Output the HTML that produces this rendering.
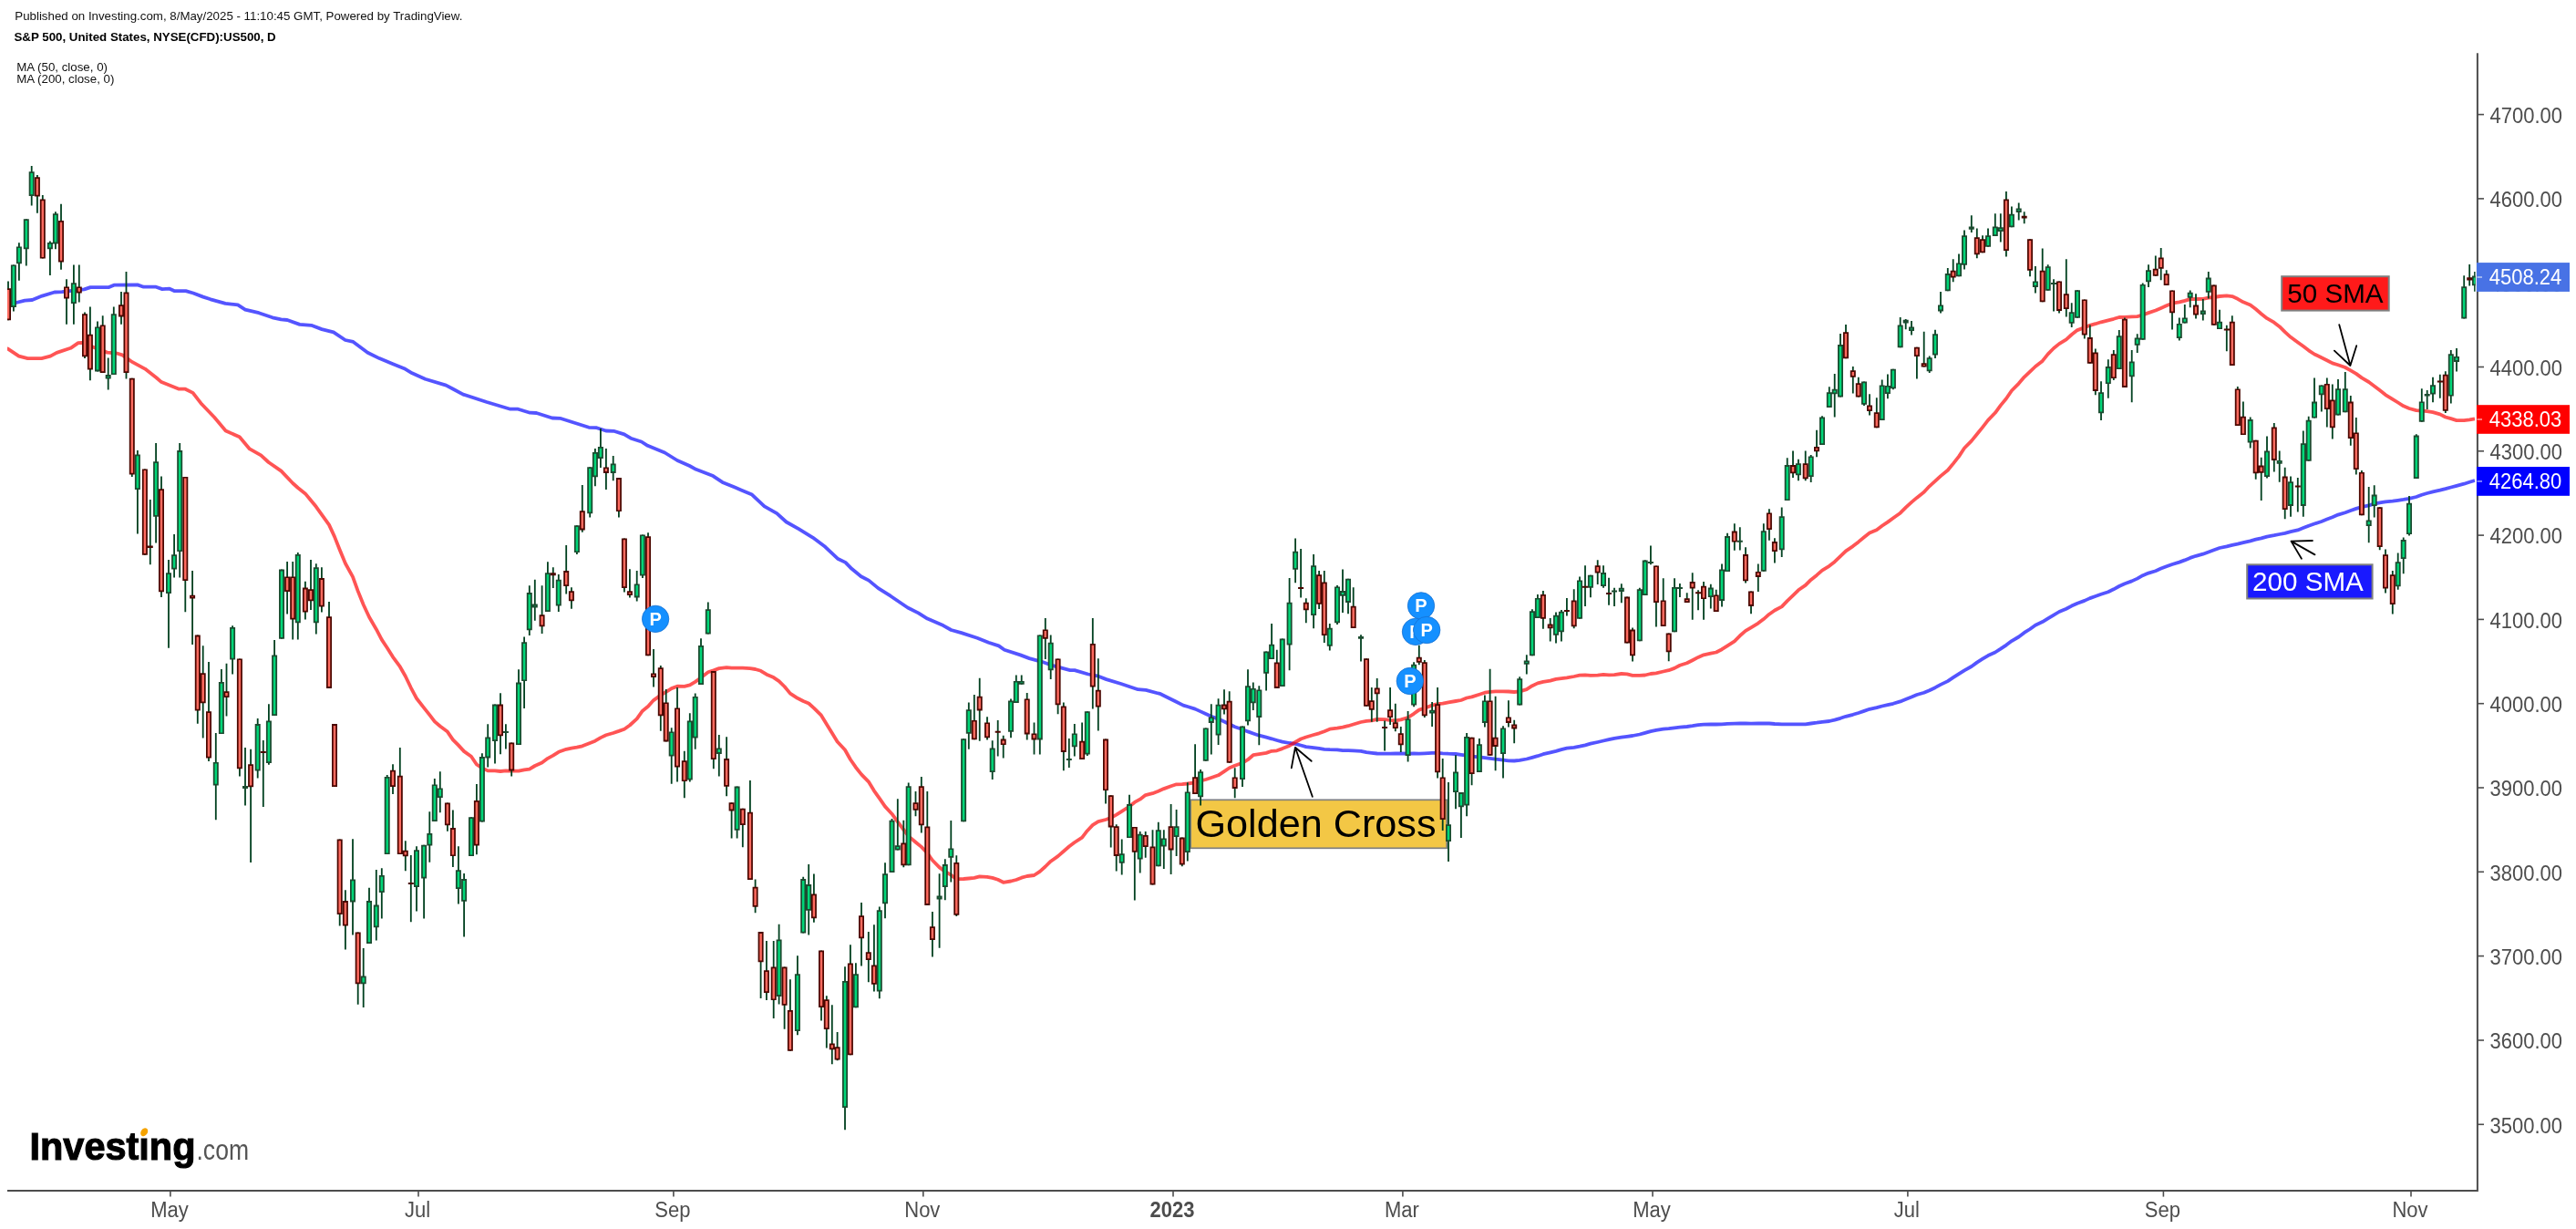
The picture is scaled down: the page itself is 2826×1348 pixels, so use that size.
<!DOCTYPE html><html><head><meta charset="utf-8"><style>html,body{margin:0;padding:0;background:#fff;width:2826px;height:1348px;overflow:hidden;position:relative}</style></head><body><svg width="2826" height="1348" viewBox="0 0 2826 1348" style="position:absolute;left:0;top:0;will-change:transform"><defs><clipPath id="cp"><rect x="8" y="58" width="2707.6" height="1247"/></clipPath></defs><text x="16.3" y="22" style="font-family:'Liberation Sans',sans-serif;font-size:13.3px" fill="#111">Published on Investing.com, 8/May/2025 - 11:10:45 GMT, Powered by TradingView.</text><text x="15.5" y="44.9" style="font-family:'Liberation Sans',sans-serif;font-size:13.3px;font-weight:bold" fill="#000">S&amp;P 500, United States, NYSE(CFD):US500, D</text><text x="18.2" y="78.2" style="font-family:'Liberation Sans',sans-serif;font-size:13.3px" fill="#111">MA (50, close, 0)</text><text x="18.2" y="91" style="font-family:'Liberation Sans',sans-serif;font-size:13.3px" fill="#111">MA (200, close, 0)</text><g clip-path="url(#cp)"><rect x="1306.2" y="877.3" width="281" height="53" fill="#f3c745" stroke="#808080" stroke-width="1.7"/><text x="1311.5" y="918.4" textLength="264" lengthAdjust="spacingAndGlyphs" style="font-family:'Liberation Sans',sans-serif;font-size:43.2px" fill="#000">Golden Cross</text><polyline points="8.0,333.5 17.7,332.0 27.2,329.6 35.3,329.0 46.2,324.6 59.8,320.5 67.9,320.1 92.4,317.4 99.2,315.1 119.6,315.1 125.0,312.7 150.8,312.4 157.6,314.7 171.2,314.7 178.0,317.1 186.1,316.7 191.6,319.2 203.8,319.2 212.0,321.5 222.8,325.6 231.0,328.3 247.3,332.8 260.9,334.4 269.0,339.6 284.0,343.2 298.9,348.3 308.4,350.4 315.2,351.0 328.8,355.9 341.5,356.8 353.0,361.1 365.9,364.4 378.8,373.0 387.5,374.9 403.3,386.7 416.2,393.1 430.5,398.9 443.5,404.2 452.1,409.3 466.5,415.7 489.4,422.6 498.1,427.2 508.1,432.6 534.0,441.0 559.8,448.7 568.4,448.7 581.4,452.7 588.5,453.0 605.8,458.5 614.4,458.8 646.0,468.8 654.6,469.2 664.7,472.5 673.3,472.8 684.8,476.4 692.0,480.7 703.7,484.5 710.5,488.8 729.3,496.5 743.0,505.0 756.6,511.0 763.5,514.8 782.3,522.1 792.5,528.9 806.2,534.6 813.0,537.5 825.0,542.6 838.6,555.4 852.3,563.1 862.6,572.5 876.2,580.2 891.6,589.6 905.3,599.8 918.9,612.7 927.5,616.9 934.3,623.8 944.6,632.3 953.1,636.6 963.4,645.1 977.0,653.7 995.8,666.5 1007.5,672.4 1017.4,678.6 1034.8,686.1 1043.5,691.0 1054.7,694.1 1072.0,699.7 1084.5,704.7 1095.7,708.4 1101.9,712.8 1119.3,718.4 1129.2,722.1 1142.9,725.8 1155.3,730.2 1173.9,735.1 1178.9,735.1 1193.8,739.5 1203.7,741.3 1213.7,745.1 1229.8,750.0 1248.4,756.2 1257.1,756.9 1273.3,761.2 1289.4,769.3 1298.1,773.6 1302.8,775.0 1311.1,777.6 1317.1,780.4 1322.8,783.0 1328.8,785.7 1336.6,788.6 1343.0,791.5 1348.7,794.2 1354.7,797.2 1363.0,800.0 1369.0,802.4 1374.8,804.5 1381.3,806.7 1389.1,808.7 1395.1,810.3 1400.8,812.0 1406.8,813.7 1414.6,815.0 1421.1,815.9 1427.1,817.5 1432.8,819.1 1441.1,820.1 1447.1,820.8 1452.8,821.8 1458.8,822.2 1467.0,822.4 1473.0,823.1 1479.0,823.1 1484.7,823.4 1493.0,823.8 1499.0,825.2 1504.8,825.9 1510.7,826.5 1519.1,826.6 1525.1,826.6 1530.8,826.5 1536.8,826.4 1544.6,826.6 1551.1,826.4 1556.8,826.6 1562.8,826.3 1571.1,825.9 1577.1,825.8 1582.7,826.3 1589.0,826.7 1597.0,827.0 1602.9,827.8 1609.1,828.7 1614.6,829.7 1622.9,830.4 1628.9,831.2 1634.6,831.9 1640.6,832.7 1649.0,833.6 1654.9,834.3 1661.2,834.5 1667.2,833.9 1674.8,832.5 1680.9,830.8 1686.9,829.2 1692.9,827.2 1700.7,825.3 1707.0,823.8 1712.9,822.1 1718.9,820.7 1726.7,819.9 1733.0,818.7 1739.0,817.3 1744.9,815.7 1752.7,814.0 1759.0,812.5 1765.0,811.1 1771.0,809.8 1778.8,808.7 1785.0,807.9 1791.0,807.0 1798.8,805.5 1804.7,803.8 1810.9,802.1 1816.9,800.9 1824.7,799.7 1830.7,799.2 1837.0,798.3 1842.9,797.7 1850.7,797.0 1856.7,796.2 1863.0,795.2 1869.0,794.7 1876.8,794.4 1882.7,794.5 1889.0,794.4 1895.0,793.9 1902.8,793.7 1908.8,793.5 1915.0,793.5 1921.0,793.6 1928.8,793.5 1934.8,793.5 1940.9,793.5 1946.9,794.0 1954.7,794.3 1960.7,794.4 1967.0,794.4 1972.9,794.4 1980.7,794.3 1986.7,793.5 1993.0,792.7 1999.0,791.8 2006.8,791.0 2012.7,789.6 2019.0,787.8 2025.0,785.8 2032.8,783.8 2038.8,782.0 2045.0,779.9 2051.0,777.8 2058.8,776.2 2064.7,774.5 2070.9,773.1 2076.9,771.8 2084.7,769.4 2090.7,767.0 2097.0,764.5 2102.9,762.0 2110.7,759.7 2116.7,757.2 2123.0,754.2 2129.0,750.9 2136.8,747.1 2142.7,743.2 2149.0,739.1 2155.0,735.3 2162.8,731.0 2168.8,726.6 2175.0,722.7 2181.0,719.1 2188.8,715.5 2194.8,711.7 2200.9,707.6 2206.9,703.1 2214.7,698.5 2220.7,693.9 2227.0,690.0 2232.9,685.7 2240.7,682.1 2246.7,678.4 2253.0,674.7 2259.0,671.0 2266.8,667.7 2272.7,664.6 2279.0,661.7 2286.8,658.9 2292.8,656.1 2298.8,654.0 2305.0,651.7 2312.8,649.2 2318.8,646.3 2324.8,643.0 2330.9,640.2 2338.7,637.4 2344.7,634.6 2350.7,631.2 2357.0,628.6 2364.8,626.2 2370.7,623.6 2376.7,621.3 2383.0,619.0 2390.8,616.6 2396.8,614.4 2402.7,611.9 2409.0,609.8 2416.8,607.7 2422.8,605.5 2428.8,603.3 2435.0,601.0 2442.8,599.3 2448.8,597.8 2454.8,596.6 2460.9,595.1 2468.7,593.3 2474.7,591.7 2480.7,590.3 2487.0,588.6 2494.8,587.2 2500.7,586.0 2506.7,584.9 2513.0,583.2 2520.8,581.4 2526.8,579.1 2532.7,576.7 2539.0,574.5 2546.8,572.0 2552.8,569.6 2558.8,567.3 2565.0,564.6 2572.8,562.2 2578.8,560.0 2584.8,557.9 2590.9,556.2 2598.7,554.3 2604.7,552.7 2610.7,551.3 2617.0,550.3 2624.8,549.6 2630.7,548.8 2636.7,547.9 2643.0,546.8 2650.8,545.0 2656.8,542.8 2662.7,541.0 2669.0,539.4 2676.8,537.7 2682.8,536.2 2688.8,534.5 2695.0,532.9 2703.2,530.7 2709.2,528.8 2715.0,527.0" fill="none" stroke="rgba(0,0,255,0.67)" stroke-width="3.8" stroke-linejoin="round"/><polyline points="8.0,382.4 8.3,382.4 20.7,390.7 30.4,393.2 45.6,393.2 55.3,390.7 62.2,386.9 77.5,381.8 85.8,376.2 89.9,375.8 102.4,380.8 117.6,386.6 127.3,387.3 134.2,389.4 143.9,396.3 159.1,404.6 171.5,414.3 177.1,419.1 196.4,426.7 203.3,426.7 211.6,430.9 221.3,443.3 235.2,457.8 247.6,472.4 262.8,479.3 273.9,492.4 286.3,499.3 294.6,507.0 308.5,516.6 321.2,530.0 326.8,535.0 334.9,541.4 341.0,548.8 346.8,555.8 352.9,564.3 361.0,575.6 367.0,588.6 372.7,603.0 378.9,618.0 387.0,632.6 392.7,648.4 398.7,663.3 405.0,676.8 412.8,690.2 418.8,701.6 424.7,710.5 431.0,720.6 438.8,731.2 444.8,741.8 450.8,754.3 457.0,766.0 465.1,776.3 471.3,784.2 476.8,791.4 482.8,796.5 490.9,802.6 496.9,811.3 502.9,817.4 509.1,824.1 517.0,829.8 522.9,838.5 528.9,842.4 535.2,845.4 543.0,845.3 549.0,846.0 554.9,845.4 561.2,845.6 569.0,845.6 575.1,844.4 580.8,843.6 586.8,840.0 594.6,836.5 600.9,831.8 606.8,828.6 612.8,824.8 621.2,821.8 626.9,820.6 632.9,819.7 638.8,818.3 647.2,815.0 652.9,812.7 658.9,809.1 664.9,806.3 672.7,804.0 678.9,801.9 684.9,799.7 690.9,795.5 698.7,788.3 704.9,779.7 711.0,774.8 717.0,768.1 724.8,762.4 730.7,758.9 736.7,755.1 743.0,752.7 750.8,752.8 756.8,751.4 762.7,747.9 769.0,743.3 776.8,737.3 782.8,735.3 788.8,733.1 797.1,732.1 802.6,732.7 808.6,732.7 814.8,732.7 822.9,733.2 828.6,734.0 834.6,735.8 840.9,739.7 848.7,743.1 854.6,747.1 860.6,753.0 866.9,760.6 874.9,765.8 881.2,769.0 887.2,771.5 892.9,776.7 901.0,784.7 906.8,794.3 912.8,804.0 918.6,813.5 927.0,822.5 932.9,833.0 938.9,841.7 945.0,849.4 952.8,857.3 958.9,867.3 964.8,875.7 971.0,884.6 978.5,892.7 984.8,901.4 991.3,910.0 996.7,917.1 1004.5,923.7 1010.8,928.9 1017.3,935.7 1022.9,943.5 1030.6,951.4 1036.8,956.0 1043.3,959.7 1049.3,964.1 1057.1,964.0 1062.8,963.5 1068.8,962.9 1074.7,961.4 1083.0,961.8 1088.7,962.9 1094.7,964.8 1100.7,967.8 1109.0,966.5 1114.8,965.0 1120.7,962.7 1126.7,961.0 1134.5,960.0 1140.8,955.8 1146.8,950.5 1152.7,944.7 1160.6,939.1 1166.8,933.8 1172.8,928.5 1178.8,924.0 1187.1,918.6 1192.8,911.2 1198.8,904.9 1204.8,901.1 1213.0,899.0 1218.7,897.0 1224.7,893.7 1230.7,889.9 1239.0,884.5 1244.8,879.9 1250.7,876.7 1256.7,872.1 1264.5,870.2 1270.8,867.8 1276.8,865.1 1284.6,862.2 1290.6,860.3 1296.8,860.1 1302.8,859.5 1311.1,858.4 1317.1,856.3 1322.8,855.0 1328.8,853.0 1336.6,850.3 1343.0,846.1 1348.7,842.2 1354.7,839.8 1363.0,836.8 1369.0,833.2 1374.8,828.2 1381.3,827.2 1389.1,825.9 1395.1,823.8 1400.8,823.3 1406.8,821.1 1414.6,817.9 1421.1,814.0 1427.1,810.5 1432.8,808.5 1441.1,806.0 1447.1,804.3 1452.8,802.2 1458.8,799.7 1467.0,798.7 1473.0,797.6 1479.0,796.2 1484.7,794.5 1493.0,792.0 1499.0,790.8 1504.8,790.3 1510.7,788.9 1519.1,789.2 1525.1,789.9 1530.8,790.4 1536.8,789.4 1544.6,787.0 1551.1,782.8 1556.8,778.6 1562.8,776.7 1571.1,773.6 1577.1,772.2 1582.7,771.6 1589.0,770.3 1597.0,769.0 1602.9,768.0 1609.1,765.5 1614.6,764.4 1622.9,761.7 1628.9,759.7 1634.6,758.9 1640.6,758.3 1649.0,758.3 1654.9,758.5 1661.2,759.0 1667.2,758.3 1674.8,756.1 1680.9,752.2 1686.9,749.4 1692.9,747.9 1700.7,746.6 1707.0,744.9 1712.9,744.1 1718.9,743.4 1726.7,742.0 1733.0,740.7 1739.0,740.4 1744.9,740.9 1752.7,740.6 1759.0,739.8 1765.0,740.4 1771.0,740.1 1778.8,739.0 1785.0,739.4 1791.0,740.9 1798.8,740.9 1804.7,740.5 1810.9,739.0 1816.9,738.3 1824.7,736.5 1830.7,735.2 1837.0,732.9 1842.9,729.8 1850.7,727.3 1856.7,724.2 1863.0,720.9 1869.0,718.3 1876.8,716.6 1882.7,715.5 1889.0,712.2 1895.0,708.4 1902.8,703.4 1908.8,697.3 1915.0,691.9 1921.0,688.3 1928.8,683.6 1934.8,679.1 1940.9,673.7 1946.9,669.5 1954.7,665.4 1960.7,659.1 1967.0,653.1 1972.9,647.3 1980.7,641.9 1986.7,635.9 1993.0,630.9 1999.0,625.6 2006.8,620.8 2012.7,616.2 2019.0,610.2 2025.0,604.3 2032.8,599.1 2038.8,594.4 2045.0,589.3 2051.0,584.6 2058.8,581.2 2064.7,576.8 2070.9,572.6 2076.9,568.2 2084.7,562.7 2090.7,556.7 2097.0,550.9 2102.9,545.9 2110.7,539.8 2116.7,533.3 2123.0,527.7 2129.0,522.1 2136.8,515.7 2142.7,508.6 2149.0,500.6 2155.0,491.5 2162.8,483.6 2168.8,476.3 2175.0,468.6 2181.0,460.9 2188.8,452.8 2194.8,444.6 2200.9,437.3 2206.9,428.5 2214.7,420.6 2220.7,413.6 2227.0,407.7 2232.9,402.0 2240.7,395.9 2246.7,388.4 2253.0,382.0 2259.0,377.1 2266.8,372.3 2272.7,367.0 2279.0,362.1 2286.8,359.2 2292.8,356.8 2298.8,355.2 2305.0,353.3 2312.8,351.4 2318.8,349.8 2324.8,348.0 2330.9,347.9 2338.7,347.3 2344.7,347.1 2350.7,345.5 2357.0,343.1 2364.8,340.5 2370.7,338.0 2376.7,335.3 2383.0,332.7 2390.8,331.4 2396.8,329.9 2402.7,328.2 2409.0,328.0 2416.8,327.8 2422.8,326.7 2428.8,326.0 2435.0,325.0 2442.8,324.4 2448.8,325.1 2454.8,327.8 2460.9,331.3 2468.7,334.4 2474.7,339.0 2480.7,344.2 2487.0,349.2 2494.8,353.7 2500.7,358.2 2506.7,364.2 2513.0,369.8 2520.8,375.5 2526.8,379.8 2532.7,384.3 2539.0,388.5 2546.8,392.2 2552.8,395.2 2558.8,398.4 2565.0,400.3 2572.8,403.0 2578.8,406.4 2584.8,409.9 2590.9,414.4 2598.7,419.0 2604.7,423.5 2610.7,428.1 2617.0,433.1 2624.8,437.8 2630.7,441.5 2636.7,445.3 2643.0,448.0 2650.8,450.2 2656.8,450.5 2662.7,451.2 2669.0,452.2 2676.8,454.4 2682.8,457.5 2688.8,459.2 2695.0,461.1 2703.2,461.1 2709.2,460.4 2715.0,459.4" fill="none" stroke="rgba(255,0,0,0.67)" stroke-width="3.8" stroke-linejoin="round"/><path d="M9.0 308.5V351.3M14.9 290.4V341.4M20.9 266.3V307.8M28.8 240.3V291.5M34.7 182.1V225.6M40.9 192.0V233.7M46.8 214.0V283.6M54.9 264.5V301.9M60.9 232.2V273.3M67.0 223.8V295.7M73.0 306.3V355.7M80.9 290.4V355.7M86.8 290.4V331.5M93.0 342.5V393.1M98.9 336.4V417.3M107.0 352.4V407.4M112.7 346.3V409.1M118.7 392.4V427.6M124.8 336.4V411.1M133.0 320.1V355.7M138.5 298.1V415.5M144.8 414.7V522.9M150.9 494.1V585.6M158.9 514.4V608.8M164.8 548.0V619.3M171.1 485.9V595.4M177.0 522.4V655.1M185.0 613.9V710.7M191.1 585.9V633.4M197.2 485.9V633.4M203.3 522.9V671.2M211.1 625.9V707.1M216.8 696.6V793.7M222.7 708.3V809.5M229.0 725.9V835.1M236.8 804.1V899.3M242.9 733.9V805.1M248.5 727.8V785.6M255.1 686.3V739.5M262.9 722.4V851.5M269.0 820.0V883.4M275.1 821.7V946.0M282.7 788.0V853.4M288.8 812.0V885.1M294.9 772.2V838.8M301.1 702.1V785.0M309.0 624.6V700.7M315.1 616.1V673.4M321.2 616.1V701.5M326.8 606.1V701.5M334.9 637.8V679.5M341.0 614.1V669.0M346.8 618.3V695.4M352.9 622.2V671.5M361.0 660.0V754.9M367.0 794.1V862.9M372.7 920.5V1015.5M378.9 976.2V1041.5M387.0 920.2V1025.6M392.7 1022.5V1101.8M398.7 1039.9V1105.0M405.0 973.8V1035.0M412.8 954.0V1031.6M418.8 952.2V1007.4M424.7 850.0V937.1M431.0 838.3V871.0M438.8 820.0V937.1M444.8 922.3V955.3M450.8 937.9V1011.3M457.0 928.3V999.6M465.1 926.7V1007.4M471.3 890.3V945.7M476.8 854.1V901.0M482.8 846.2V891.2M490.9 880.5V911.8M496.9 888.4V951.1M502.9 928.2V991.4M509.1 958.1V1027.6M517.0 896.2V939.1M522.9 860.0V937.3M528.9 826.2V901.4M535.2 794.2V841.5M543.0 772.6V837.6M549.0 760.3V827.2M554.9 794.2V821.5M561.2 814.5V851.4M569.0 734.3V817.1M575.1 698.5V777.0M580.8 642.3V696.9M586.8 635.8V680.8M594.6 642.3V695.1M600.9 616.2V670.9M606.8 622.2V645.1M612.8 630.0V670.9M621.2 598.0V651.4M626.9 644.3V667.8M632.9 576.2V607.9M638.8 531.9V583.7M647.2 512.2V567.6M652.9 492.1V533.2M658.9 470.0V512.9M664.9 492.1V537.1M672.7 499.9V527.2M678.9 524.1V567.6M684.9 590.5V649.5M690.9 624.3V655.4M698.7 626.1V659.4M704.9 586.4V634.0M711.0 584.2V719.3M717.0 711.9V753.5M724.8 730.1V801.7M730.7 756.1V813.4M736.7 798.3V859.7M743.0 754.1V857.6M750.8 823.8V875.3M756.8 782.2V857.6M762.7 760.5V821.7M769.0 700.2V750.9M776.8 660.4V695.5M782.8 736.1V843.3M788.8 806.1V851.6M797.1 808.2V873.2M802.6 880.3V919.4M808.6 862.6V919.4M814.8 886.8V929.3M822.9 856.1V964.9M828.6 964.4V1001.3M834.6 1022.1V1095.0M840.9 1032.0V1097.1M848.7 1032.0V1117.1M854.6 1013.8V1101.5M860.6 1060.4V1128.8M866.9 1074.2V1152.8M874.9 1048.2V1135.3M881.2 961.8V1023.4M887.2 948.0V1025.5M892.9 958.4V1011.7M901.0 1042.6V1119.6M906.8 1092.3V1149.6M912.8 1102.2V1167.2M918.6 1132.0V1163.3M927.0 1060.2V1239.2M932.9 1036.3V1157.3M938.9 1056.3V1105.2M945.0 990.0V1059.5M952.8 1022.0V1077.3M958.9 1014.2V1087.5M964.8 994.6V1095.3M971.0 946.3V1007.2M978.5 897.9V957.0M984.8 876.3V932.5M991.3 899.7V951.3M996.7 858.4V949.2M1004.5 868.0V895.3M1010.8 851.9V913.5M1017.3 868.0V992.9M1022.9 999.9V1049.4M1030.6 958.3V1039.7M1036.8 942.2V987.2M1043.3 900.0V967.4M1049.3 938.2V1005.1M1057.1 810.2V901.3M1062.8 770.4V821.7M1068.8 762.1V811.3M1074.7 743.8V812.7M1083.0 786.2V811.4M1088.7 812.2V855.1M1094.7 790.1V829.6M1100.7 806.7V831.4M1109.0 766.4V809.3M1114.8 740.6V771.1M1120.7 740.6V750.8M1126.7 760.1V811.4M1134.5 792.4V827.5M1140.8 696.4V827.5M1146.8 678.0V722.9M1152.7 696.4V745.1M1160.6 722.4V783.3M1166.8 770.6V845.2M1172.8 810.1V841.9M1178.8 794.0V829.6M1187.1 792.4V833.0M1192.8 780.2V829.1M1198.8 678.0V777.6M1204.8 722.2V801.5M1213.0 810.6V881.4M1218.7 872.3V929.5M1224.7 904.3V955.5M1230.7 920.4V959.4M1239.0 871.7V919.1M1244.8 906.9V987.5M1250.7 912.1V957.6M1256.7 912.1V940.7M1264.5 910.3V970.6M1270.8 901.7V950.3M1276.8 910.3V952.9M1284.6 882.1V958.9M1290.6 887.9V938.9M1296.8 918.6V950.3M1302.8 858.2V944.6M1311.1 816.3V871.0M1317.1 843.9V883.4M1322.8 798.4V834.8M1328.8 772.3V827.5M1336.6 766.2V817.0M1343.0 756.2V783.5M1348.7 758.2V836.8M1354.7 842.3V875.3M1363.0 796.5V862.9M1369.0 734.3V795.5M1374.8 748.6V779.1M1381.3 752.3V817.3M1389.1 714.5V757.5M1395.1 684.1V723.1M1400.8 712.7V754.9M1406.8 700.5V753.0M1414.6 634.1V735.3M1421.1 590.4V639.3M1427.1 602.1V655.5M1432.8 656.2V683.3M1441.1 608.1V689.3M1447.1 626.1V668.0M1452.8 626.1V704.9M1458.8 684.1V713.5M1467.0 642.1V685.0M1473.0 624.4V672.0M1479.0 634.8V673.3M1484.7 644.2V689.0M1493.0 696.2V725.4M1499.0 722.3V774.8M1504.8 754.0V791.7M1510.7 744.1V791.7M1519.1 790.4V823.5M1525.1 754.0V794.9M1530.8 771.7V802.2M1536.8 796.9V825.0M1544.6 780.0V835.5M1551.1 726.2V775.3M1556.8 707.7V729.3M1562.8 724.1V787.1M1571.1 770.1V797.0M1577.1 754.0V853.4M1582.7 832.1V911.1M1589.0 858.0V945.1M1597.0 828.3V887.3M1602.9 869.1V919.1M1609.1 804.1V895.2M1614.6 808.8V861.3M1622.9 810.1V847.0M1628.9 762.5V797.6M1634.6 733.8V828.8M1640.6 763.8V845.2M1649.0 796.3V853.5M1654.9 768.2V797.6M1661.2 789.8V815.3M1667.2 742.2V773.4M1674.8 718.3V739.4M1680.9 668.2V719.2M1686.9 652.0V678.1M1692.9 648.1V689.8M1700.7 678.1V703.6M1707.0 671.6V705.4M1712.9 669.0V703.6M1718.9 656.0V675.5M1726.7 646.3V689.3M1733.0 632.5V678.8M1739.0 620.3V665.1M1744.9 630.7V655.2M1752.7 614.3V641.1M1759.0 620.3V644.8M1765.0 633.8V663.8M1771.0 644.8V665.1M1778.8 640.3V661.2M1785.0 654.6V705.4M1791.0 688.5V725.4M1798.8 644.8V703.3M1804.7 614.3V652.9M1810.9 598.5V619.3M1816.9 620.4V687.5M1824.7 634.2V687.0M1830.7 694.5V725.2M1837.0 634.2V693.2M1842.9 640.1V655.0M1850.7 650.3V661.0M1856.7 628.2V679.7M1863.0 647.2V669.3M1869.0 638.1V679.7M1876.8 640.7V667.5M1882.7 646.7V671.1M1889.0 618.5V665.4M1895.0 584.7V627.1M1902.8 574.3V603.7M1908.8 578.2V603.5M1915.0 600.3V639.4M1921.0 648.5V673.2M1928.8 618.5V649.0M1934.8 574.2V626.8M1940.9 558.2V592.8M1946.9 590.2V617.5M1954.7 556.4V611.0M1960.7 502.3V549.1M1967.0 494.5V523.9M1972.9 503.8V527.2M1980.7 494.5V527.2M1986.7 499.1V529.1M1993.0 471.8V501.2M1999.0 456.2V488.0M2006.8 424.2V447.1M2012.7 410.1V457.5M2019.0 365.9V435.4M2025.0 356.0V393.2M2032.8 402.1V431.5M2038.8 413.8V435.4M2045.0 418.5V445.0M2051.0 432.3V455.4M2058.8 436.2V469.2M2064.7 416.4V461.1M2070.9 410.4V437.2M2076.9 404.7V427.3M2084.7 348.0V381.3M2090.7 350.0V361.2M2097.0 352.1V367.5M2102.9 380.7V415.6M2110.7 363.8V402.6M2116.7 390.4V409.1M2123.0 361.7V393.0M2129.0 320.1V343.5M2136.8 294.1V319.3M2142.7 284.2V309.2M2149.0 278.5V303.2M2155.0 252.5V295.4M2162.8 236.3V255.1M2168.8 250.4V283.2M2175.0 258.2V277.2M2181.0 250.4V270.7M2188.8 234.2V259.0M2194.8 234.2V265.5M2200.9 210.0V281.6M2206.9 226.4V249.3M2214.7 222.5V241.5M2220.7 232.2V245.2M2227.0 262.3V303.2M2232.9 292.0V321.4M2240.7 272.5V331.3M2246.7 290.2V318.8M2253.0 306.3V341.4M2259.0 308.4V343.5M2266.8 284.2V347.4M2272.7 332.3V359.1M2279.0 318.3V348.7M2286.8 328.4V371.4M2292.8 356.5V398.7M2298.8 382.6V433.3M2305.0 418.2V461.1M2312.8 394.3V436.7M2318.8 383.9V416.9M2324.8 362.0V405.0M2330.9 348.4V424.9M2338.7 384.0V441.3M2344.7 366.3V387.1M2350.7 310.4V372.8M2357.0 290.3V315.1M2364.8 280.4V302.8M2370.7 272.1V307.2M2376.7 296.3V313.0M2383.0 318.4V361.4M2390.8 348.4V373.6M2396.8 334.0V354.6M2402.7 318.4V337.2M2409.0 322.3V349.4M2416.8 328.1V351.5M2422.8 298.1V327.5M2428.8 312.5V356.7M2435.0 339.8V361.1M2442.8 356.7V385.3M2448.8 346.3V400.9M2454.8 424.0V467.0M2460.9 440.4V477.1M2468.7 457.5V491.4M2474.7 482.8V525.7M2480.7 501.8V549.1M2487.0 478.4V524.4M2494.8 464.0V517.4M2500.7 494.5V528.8M2506.7 512.7V569.2M2513.0 522.6V566.8M2520.8 523.9V561.4M2526.8 472.4V566.8M2532.7 456.8V505.7M2539.0 414.6V458.6M2546.8 422.4V451.6M2552.8 414.6V468.5M2558.8 421.6V481.5M2565.0 415.9V455.5M2572.8 408.1V452.3M2578.8 434.1V488.8M2584.8 458.1V520.5M2590.9 516.1V565.3M2598.7 534.0V595.2M2604.7 532.2V567.4M2610.7 556.2V603.3M2617.0 602.5V650.6M2624.8 625.9V673.5M2630.7 606.4V646.7M2636.7 589.5V629.3M2643.0 543.9V587.4M2650.8 476.3V524.9M2656.8 426.3V462.7M2662.7 428.1V449.0M2669.0 413.8V441.2M2676.8 410.7V436.7M2682.8 407.3V452.9M2688.8 383.9V442.5M2695.0 382.1V407.6M2703.2 302.2V349.5M2709.2 290.0V313.6M2715.0 298.0V319.7" stroke="#00401f" stroke-width="1.8" fill="none"/><path d="M11.90 290.4h6.00v46.6h-6.00zM17.90 270.4h6.00v18.9h-6.00zM25.80 240.3h6.00v33.0h-6.00zM31.70 188.2h6.00v26.9h-6.00zM51.90 266.0h6.00v7.3h-6.00zM57.90 234.2h6.00v33.2h-6.00zM77.90 310.2h6.00v22.9h-6.00zM104.00 358.4h6.00v49.0h-6.00zM115.70 411.1h6.00v4.4h-6.00zM121.80 344.3h6.00v66.8h-6.00zM147.90 498.5h6.00v38.6h-6.00zM168.10 506.3h6.00v60.5h-6.00zM182.00 628.3h6.00v22.7h-6.00zM188.10 608.3h6.00v16.3h-6.00zM194.20 494.1h6.00v111.0h-6.00zM233.80 835.9h6.00v25.6h-6.00zM239.90 748.0h6.00v57.1h-6.00zM252.10 688.0h6.00v35.4h-6.00zM266.00 862.0h6.00v2.9h-6.00zM279.70 794.1h6.00v51.3h-6.00zM291.90 790.5h6.00v46.6h-6.00zM298.10 718.5h6.00v66.5h-6.00zM306.00 624.6h6.00v76.1h-6.00zM323.80 608.0h6.00v75.2h-6.00zM343.80 622.2h6.00v61.0h-6.00zM384.00 964.5h6.00v24.9h-6.00zM395.70 1070.6h6.00v8.6h-6.00zM402.00 988.1h6.00v46.9h-6.00zM409.80 992.6h6.00v24.7h-6.00zM415.80 960.0h6.00v19.0h-6.00zM421.70 852.0h6.00v85.1h-6.00zM454.00 932.2h6.00v40.8h-6.00zM462.10 926.7h6.00v36.7h-6.00zM468.30 914.0h6.00v13.5h-6.00zM473.80 860.4h6.00v40.6h-6.00zM479.80 864.4h6.00v10.6h-6.00zM499.90 954.2h6.00v20.8h-6.00zM506.10 964.1h6.00v24.7h-6.00zM514.00 896.2h6.00v42.9h-6.00zM525.90 830.1h6.00v71.3h-6.00zM532.20 808.5h6.00v22.9h-6.00zM540.00 772.6h6.00v40.3h-6.00zM551.90 802.1h6.00v2.0h-6.00zM566.00 748.6h6.00v68.5h-6.00zM572.10 704.2h6.00v42.9h-6.00zM577.80 650.1h6.00v41.1h-6.00zM583.80 662.6h6.00v3.9h-6.00zM597.90 628.2h6.00v42.7h-6.00zM609.80 635.8h6.00v28.8h-6.00zM629.90 576.2h6.00v29.9h-6.00zM644.20 512.2h6.00v51.0h-6.00zM649.90 496.0h6.00v27.3h-6.00zM655.90 490.0h6.00v13.0h-6.00zM669.70 508.5h6.00v10.4h-6.00zM695.70 640.4h6.00v15.0h-6.00zM701.90 586.4h6.00v45.1h-6.00zM733.70 802.4h6.00v27.1h-6.00zM753.80 790.5h6.00v65.0h-6.00zM759.70 763.9h6.00v45.6h-6.00zM766.00 708.0h6.00v42.9h-6.00zM773.80 668.2h6.00v27.3h-6.00zM785.80 820.4h6.00v6.5h-6.00zM805.60 862.6h6.00v48.2h-6.00zM851.60 1030.5h6.00v62.4h-6.00zM871.90 1068.2h6.00v62.7h-6.00zM878.20 964.1h6.00v59.3h-6.00zM884.20 970.1h6.00v28.6h-6.00zM924.00 1076.1h6.00v138.9h-6.00zM935.90 1068.3h6.00v36.9h-6.00zM961.80 998.3h6.00v89.2h-6.00zM968.00 958.3h6.00v32.9h-6.00zM975.50 899.7h6.00v57.3h-6.00zM981.80 927.3h6.00v5.2h-6.00zM993.70 862.3h6.00v86.9h-6.00zM1027.60 982.5h6.00v3.9h-6.00zM1033.80 948.1h6.00v24.8h-6.00zM1040.30 930.4h6.00v10.4h-6.00zM1054.10 810.2h6.00v91.1h-6.00zM1059.80 778.2h6.00v26.6h-6.00zM1085.70 820.5h6.00v26.6h-6.00zM1106.00 768.5h6.00v34.3h-6.00zM1111.80 746.9h6.00v24.2h-6.00zM1117.70 746.9h6.00v3.9h-6.00zM1137.80 696.4h6.00v115.0h-6.00zM1149.70 704.7h6.00v30.5h-6.00zM1169.80 832.1h6.00v2.0h-6.00zM1175.80 804.4h6.00v14.8h-6.00zM1189.80 780.2h6.00v47.3h-6.00zM1227.70 936.3h6.00v10.4h-6.00zM1236.00 882.1h6.00v37.0h-6.00zM1247.70 914.7h6.00v27.8h-6.00zM1267.80 910.3h6.00v40.0h-6.00zM1273.80 919.4h6.00v9.1h-6.00zM1287.60 906.3h6.00v11.8h-6.00zM1299.80 868.4h6.00v66.6h-6.00zM1314.10 846.2h6.00v28.1h-6.00zM1319.80 798.4h6.00v36.4h-6.00zM1325.80 786.4h6.00v6.5h-6.00zM1333.60 772.8h6.00v33.7h-6.00zM1360.00 796.5h6.00v58.5h-6.00zM1366.00 752.3h6.00v39.0h-6.00zM1371.80 754.9h6.00v16.4h-6.00zM1378.30 756.4h6.00v30.5h-6.00zM1386.10 714.5h6.00v24.2h-6.00zM1392.10 706.7h6.00v16.4h-6.00zM1403.80 700.5h6.00v52.5h-6.00zM1411.60 660.7h6.00v46.8h-6.00zM1418.10 604.7h6.00v20.1h-6.00zM1438.10 620.3h6.00v54.7h-6.00zM1455.80 688.8h6.00v20.0h-6.00zM1464.00 643.4h6.00v39.8h-6.00zM1470.00 648.1h6.00v5.7h-6.00zM1476.00 634.8h6.00v26.1h-6.00zM1490.00 698.1h6.00v2.6h-6.00zM1541.60 788.4h6.00v40.6h-6.00zM1548.10 728.8h6.00v44.7h-6.00zM1568.10 778.7h6.00v3.9h-6.00zM1586.00 904.3h6.00v18.7h-6.00zM1594.00 846.5h6.00v22.5h-6.00zM1599.90 869.1h6.00v16.2h-6.00zM1606.10 808.0h6.00v75.4h-6.00zM1619.90 816.3h6.00v30.7h-6.00zM1625.90 768.4h6.00v24.5h-6.00zM1646.00 798.4h6.00v28.6h-6.00zM1664.20 744.2h6.00v29.2h-6.00zM1671.80 724.5h6.00v4.2h-6.00zM1677.90 670.3h6.00v48.9h-6.00zM1683.90 655.9h6.00v22.2h-6.00zM1704.00 674.7h6.00v22.1h-6.00zM1709.90 670.8h6.00v22.4h-6.00zM1730.00 636.4h6.00v42.4h-6.00zM1741.90 630.7h6.00v14.1h-6.00zM1756.00 628.1h6.00v14.8h-6.00zM1768.00 647.5h6.00v2.0h-6.00zM1775.80 644.8h6.00v4.1h-6.00zM1795.80 646.3h6.00v57.0h-6.00zM1801.70 614.6h6.00v38.3h-6.00zM1807.90 615.9h6.00v2.0h-6.00zM1834.00 644.0h6.00v49.2h-6.00zM1839.90 643.9h6.00v2.0h-6.00zM1873.80 644.6h6.00v10.4h-6.00zM1886.00 624.5h6.00v34.4h-6.00zM1892.00 588.1h6.00v39.0h-6.00zM1905.80 592.8h6.00v2.0h-6.00zM1931.80 582.2h6.00v44.6h-6.00zM1951.70 566.3h6.00v36.9h-6.00zM1957.70 510.1h6.00v39.0h-6.00zM1969.90 508.2h6.00v13.1h-6.00zM1983.70 500.4h6.00v22.7h-6.00zM1996.00 457.5h6.00v30.5h-6.00zM2003.80 430.2h6.00v16.9h-6.00zM2009.70 426.8h6.00v5.5h-6.00zM2016.00 378.1h6.00v57.3h-6.00zM2042.00 418.5h6.00v25.2h-6.00zM2061.70 422.4h6.00v38.7h-6.00zM2067.90 422.9h6.00v9.1h-6.00zM2073.90 404.7h6.00v21.6h-6.00zM2081.70 356.5h6.00v24.8h-6.00zM2087.70 350.8h6.00v3.7h-6.00zM2094.00 358.6h6.00v4.4h-6.00zM2113.70 392.2h6.00v15.1h-6.00zM2120.00 366.2h6.00v23.4h-6.00zM2126.00 334.4h6.00v7.0h-6.00zM2133.80 300.1h6.00v19.2h-6.00zM2146.00 288.4h6.00v14.8h-6.00zM2152.00 258.2h6.00v32.5h-6.00zM2159.80 248.5h6.00v3.2h-6.00zM2178.00 258.2h6.00v12.5h-6.00zM2185.80 248.5h6.00v10.5h-6.00zM2191.80 249.3h6.00v4.7h-6.00zM2203.90 234.8h6.00v14.5h-6.00zM2211.70 228.5h6.00v4.4h-6.00zM2229.90 308.4h6.00v6.5h-6.00zM2243.70 292.3h6.00v26.5h-6.00zM2250.00 310.0h6.00v2.0h-6.00zM2269.70 342.2h6.00v12.5h-6.00zM2276.00 318.3h6.00v30.4h-6.00zM2302.00 430.2h6.00v23.1h-6.00zM2309.80 402.1h6.00v19.0h-6.00zM2321.80 368.3h6.00v36.7h-6.00zM2335.70 396.5h6.00v16.7h-6.00zM2341.70 370.5h6.00v8.3h-6.00zM2347.70 311.9h6.00v60.9h-6.00zM2354.00 296.3h6.00v13.0h-6.00zM2387.80 354.9h6.00v16.1h-6.00zM2393.80 348.4h6.00v6.2h-6.00zM2399.70 320.8h6.00v6.0h-6.00zM2413.80 340.6h6.00v4.4h-6.00zM2419.80 304.6h6.00v16.2h-6.00zM2432.00 352.8h6.00v8.3h-6.00zM2465.70 460.1h6.00v25.3h-6.00zM2484.00 494.5h6.00v28.6h-6.00zM2497.70 504.9h6.00v3.9h-6.00zM2510.00 528.3h6.00v26.6h-6.00zM2523.80 486.2h6.00v68.7h-6.00zM2529.70 460.7h6.00v45.0h-6.00zM2536.00 440.6h6.00v18.0h-6.00zM2543.80 422.4h6.00v10.9h-6.00zM2562.00 426.3h6.00v29.2h-6.00zM2569.80 426.3h6.00v26.0h-6.00zM2595.70 570.5h6.00v6.5h-6.00zM2601.70 542.6h6.00v12.3h-6.00zM2627.70 616.3h6.00v27.0h-6.00zM2633.70 592.1h6.00v20.8h-6.00zM2640.00 551.7h6.00v34.4h-6.00zM2647.80 477.6h6.00v47.3h-6.00zM2653.80 440.4h6.00v22.3h-6.00zM2659.70 432.0h6.00v2.6h-6.00zM2666.00 422.2h6.00v10.4h-6.00zM2685.80 388.3h6.00v46.3h-6.00zM2692.00 390.9h6.00v6.0h-6.00zM2700.20 314.3h6.00v35.2h-6.00zM2712.00 302.6h6.00v10.6h-6.00z" fill="#1c4b30"/><path d="M6.00 316.2h6.00v35.1h-6.00zM37.90 194.2h6.00v21.3h-6.00zM43.80 218.4h6.00v65.2h-6.00zM64.00 242.1h6.00v45.5h-6.00zM70.00 314.4h6.00v13.2h-6.00zM83.80 314.4h6.00v7.2h-6.00zM90.00 344.3h6.00v47.0h-6.00zM95.90 366.7h6.00v38.9h-6.00zM109.70 356.4h6.00v52.7h-6.00zM130.00 334.2h6.00v13.2h-6.00zM135.50 320.5h6.00v88.6h-6.00zM141.80 414.7h6.00v105.8h-6.00zM155.90 514.4h6.00v94.4h-6.00zM161.80 598.5h6.00v2.5h-6.00zM174.00 536.3h6.00v113.0h-6.00zM200.30 522.9h6.00v114.2h-6.00zM208.10 652.7h6.00v3.9h-6.00zM213.80 696.6h6.00v82.9h-6.00zM219.70 738.3h6.00v32.9h-6.00zM226.00 780.2h6.00v51.3h-6.00zM245.50 758.3h6.00v6.8h-6.00zM259.90 722.4h6.00v120.8h-6.00zM272.10 838.3h6.00v24.9h-6.00zM285.80 824.0h6.00v2.0h-6.00zM312.10 632.4h6.00v16.6h-6.00zM318.20 632.4h6.00v47.1h-6.00zM331.90 644.6h6.00v26.9h-6.00zM338.00 646.3h6.00v13.0h-6.00zM349.90 634.1h6.00v31.3h-6.00zM358.00 676.3h6.00v78.6h-6.00zM364.00 794.1h6.00v68.8h-6.00zM369.70 920.5h6.00v82.5h-6.00zM375.90 988.1h6.00v27.4h-6.00zM389.70 1022.5h6.00v56.7h-6.00zM428.00 844.8h6.00v18.2h-6.00zM435.80 850.7h6.00v86.4h-6.00zM441.80 932.7h6.00v6.5h-6.00zM447.80 967.9h6.00v2.0h-6.00zM487.90 880.5h6.00v24.8h-6.00zM493.90 908.1h6.00v31.0h-6.00zM519.90 878.0h6.00v49.4h-6.00zM546.00 772.6h6.00v34.6h-6.00zM558.20 814.5h6.00v30.9h-6.00zM591.60 674.3h6.00v13.0h-6.00zM603.80 628.2h6.00v3.1h-6.00zM618.20 626.1h6.00v16.9h-6.00zM623.90 648.2h6.00v11.0h-6.00zM635.80 560.3h6.00v21.1h-6.00zM661.90 512.4h6.00v6.5h-6.00zM675.90 524.1h6.00v37.0h-6.00zM681.90 590.5h6.00v54.6h-6.00zM687.90 648.2h6.00v4.7h-6.00zM708.00 588.3h6.00v131.0h-6.00zM714.00 738.4h6.00v4.7h-6.00zM721.80 732.2h6.00v53.1h-6.00zM727.70 770.4h6.00v43.0h-6.00zM740.00 776.4h6.00v65.1h-6.00zM747.80 834.2h6.00v22.9h-6.00zM779.80 736.1h6.00v96.8h-6.00zM794.10 832.1h6.00v30.7h-6.00zM799.60 880.3h6.00v9.1h-6.00zM811.80 886.8h6.00v18.3h-6.00zM819.90 890.7h6.00v74.2h-6.00zM825.60 972.7h6.00v22.1h-6.00zM831.60 1022.1h6.00v33.1h-6.00zM837.90 1064.3h6.00v24.7h-6.00zM845.70 1060.4h6.00v36.7h-6.00zM857.60 1060.4h6.00v42.4h-6.00zM863.90 1108.0h6.00v44.8h-6.00zM889.90 980.5h6.00v26.8h-6.00zM898.00 1042.6h6.00v62.4h-6.00zM903.80 1096.2h6.00v32.8h-6.00zM909.80 1144.6h6.00v6.6h-6.00zM915.60 1148.2h6.00v14.3h-6.00zM929.90 1056.6h6.00v100.7h-6.00zM942.00 1004.2h6.00v25.1h-6.00zM949.80 1044.3h6.00v8.7h-6.00zM955.90 1058.4h6.00v21.3h-6.00zM988.30 924.5h6.00v24.7h-6.00zM1001.50 880.2h6.00v8.6h-6.00zM1007.80 862.3h6.00v42.9h-6.00zM1014.30 906.5h6.00v86.4h-6.00zM1019.90 1016.3h6.00v14.8h-6.00zM1046.30 946.0h6.00v57.8h-6.00zM1065.80 789.9h6.00v21.4h-6.00zM1071.70 763.8h6.00v15.6h-6.00zM1080.00 792.4h6.00v16.9h-6.00zM1091.70 801.8h6.00v2.0h-6.00zM1097.70 810.6h6.00v6.5h-6.00zM1123.70 766.4h6.00v39.0h-6.00zM1131.50 804.4h6.00v7.0h-6.00zM1143.80 690.4h6.00v10.4h-6.00zM1157.60 722.4h6.00v50.8h-6.00zM1163.80 774.5h6.00v50.4h-6.00zM1184.10 812.7h6.00v20.3h-6.00zM1195.80 706.0h6.00v47.4h-6.00zM1201.80 756.7h6.00v18.8h-6.00zM1210.00 810.6h6.00v56.5h-6.00zM1215.70 872.3h6.00v35.1h-6.00zM1221.70 906.3h6.00v32.6h-6.00zM1241.80 906.9h6.00v27.8h-6.00zM1253.70 916.0h6.00v13.0h-6.00zM1261.50 928.5h6.00v42.1h-6.00zM1281.60 906.3h6.00v26.1h-6.00zM1293.80 918.6h6.00v29.9h-6.00zM1308.10 852.2h6.00v18.8h-6.00zM1340.00 772.6h6.00v5.7h-6.00zM1345.70 768.7h6.00v68.1h-6.00zM1351.70 852.4h6.00v12.5h-6.00zM1397.80 726.5h6.00v28.4h-6.00zM1424.10 643.9h6.00v2.0h-6.00zM1429.80 660.7h6.00v8.6h-6.00zM1444.10 630.2h6.00v32.5h-6.00zM1449.80 638.5h6.00v58.6h-6.00zM1481.70 664.8h6.00v24.2h-6.00zM1496.00 722.3h6.00v52.5h-6.00zM1501.80 768.3h6.00v10.4h-6.00zM1507.70 754.5h6.00v6.8h-6.00zM1516.10 797.1h6.00v2.0h-6.00zM1522.10 778.2h6.00v8.9h-6.00zM1527.80 792.3h6.00v6.7h-6.00zM1533.80 804.2h6.00v13.0h-6.00zM1553.80 720.7h6.00v6.0h-6.00zM1559.80 726.2h6.00v59.0h-6.00zM1574.10 772.2h6.00v75.0h-6.00zM1579.70 852.4h6.00v46.6h-6.00zM1611.60 808.8h6.00v40.3h-6.00zM1631.60 768.4h6.00v60.4h-6.00zM1637.60 808.8h6.00v10.1h-6.00zM1651.90 786.4h6.00v6.5h-6.00zM1658.20 794.5h6.00v4.9h-6.00zM1689.90 652.0h6.00v26.8h-6.00zM1697.70 684.6h6.00v4.7h-6.00zM1715.90 668.9h6.00v2.0h-6.00zM1723.70 658.5h6.00v28.7h-6.00zM1736.00 642.8h6.00v2.0h-6.00zM1749.70 620.3h6.00v8.3h-6.00zM1762.00 650.1h6.00v2.0h-6.00zM1782.00 654.6h6.00v50.8h-6.00zM1788.00 690.6h6.00v28.6h-6.00zM1813.90 620.4h6.00v40.6h-6.00zM1821.70 658.4h6.00v28.6h-6.00zM1827.70 694.5h6.00v20.8h-6.00zM1847.70 656.3h6.00v4.7h-6.00zM1853.70 638.1h6.00v7.3h-6.00zM1860.00 649.2h6.00v2.0h-6.00zM1866.00 642.7h6.00v14.4h-6.00zM1879.70 652.4h6.00v18.7h-6.00zM1899.80 582.6h6.00v12.0h-6.00zM1912.00 608.1h6.00v29.2h-6.00zM1918.00 648.5h6.00v16.4h-6.00zM1925.80 626.9h6.00v6.0h-6.00zM1937.90 562.4h6.00v18.7h-6.00zM1943.90 594.1h6.00v10.9h-6.00zM1964.00 510.1h6.00v9.1h-6.00zM1977.70 508.2h6.00v17.0h-6.00zM1990.00 490.0h6.00v5.2h-6.00zM2022.00 364.3h6.00v28.9h-6.00zM2029.80 406.2h6.00v7.6h-6.00zM2035.80 420.3h6.00v15.1h-6.00zM2048.00 444.5h6.00v6.5h-6.00zM2055.80 452.3h6.00v16.9h-6.00zM2099.90 380.7h6.00v10.4h-6.00zM2107.70 398.2h6.00v4.4h-6.00zM2139.70 296.7h6.00v7.8h-6.00zM2165.80 260.3h6.00v19.0h-6.00zM2172.00 262.3h6.00v14.9h-6.00zM2197.90 218.6h6.00v56.5h-6.00zM2217.70 236.8h6.00v2.6h-6.00zM2224.00 262.3h6.00v34.4h-6.00zM2237.70 296.7h6.00v34.6h-6.00zM2256.00 308.4h6.00v32.5h-6.00zM2263.80 322.2h6.00v16.9h-6.00zM2283.80 328.4h6.00v39.1h-6.00zM2289.80 370.1h6.00v28.6h-6.00zM2295.80 386.5h6.00v42.4h-6.00zM2315.80 388.3h6.00v26.8h-6.00zM2327.90 349.7h6.00v75.2h-6.00zM2361.80 294.8h6.00v8.0h-6.00zM2367.70 282.5h6.00v12.3h-6.00zM2373.70 300.2h6.00v12.8h-6.00zM2380.00 318.4h6.00v24.8h-6.00zM2406.00 334.6h6.00v10.9h-6.00zM2425.80 312.5h6.00v44.2h-6.00zM2439.80 360.5h6.00v2.0h-6.00zM2445.80 352.8h6.00v48.1h-6.00zM2451.80 426.4h6.00v40.6h-6.00zM2457.90 456.8h6.00v20.3h-6.00zM2471.70 482.8h6.00v36.4h-6.00zM2477.70 510.6h6.00v8.1h-6.00zM2491.80 468.5h6.00v36.4h-6.00zM2503.70 522.6h6.00v36.4h-6.00zM2517.80 532.4h6.00v2.0h-6.00zM2549.80 420.9h6.00v28.1h-6.00zM2555.80 438.5h6.00v30.8h-6.00zM2575.80 440.6h6.00v40.4h-6.00zM2581.80 474.4h6.00v40.6h-6.00zM2587.90 517.9h6.00v47.4h-6.00zM2607.70 556.2h6.00v43.7h-6.00zM2614.00 608.2h6.00v37.2h-6.00zM2621.80 630.3h6.00v32.8h-6.00zM2673.80 417.4h6.00v2.0h-6.00zM2679.80 410.7h6.00v40.1h-6.00zM2706.20 304.2h6.00v3.3h-6.00z" fill="#4b0700"/><path d="M13.65 292.1h2.50v43.1h-2.50zM19.65 272.1h2.50v15.4h-2.50zM27.55 242.1h2.50v29.5h-2.50zM33.45 189.9h2.50v23.4h-2.50zM53.65 267.8h2.50v3.8h-2.50zM59.65 235.9h2.50v29.7h-2.50zM79.65 311.9h2.50v19.4h-2.50zM105.75 360.1h2.50v45.5h-2.50zM117.45 412.9h2.50v0.9h-2.50zM123.55 346.1h2.50v63.3h-2.50zM149.65 500.2h2.50v35.1h-2.50zM169.85 508.1h2.50v57.0h-2.50zM183.75 630.0h2.50v19.2h-2.50zM189.85 610.0h2.50v12.8h-2.50zM195.95 495.9h2.50v107.5h-2.50zM235.55 837.6h2.50v22.1h-2.50zM241.65 749.8h2.50v53.6h-2.50zM253.85 689.8h2.50v31.9h-2.50zM281.45 795.9h2.50v47.8h-2.50zM293.65 792.2h2.50v43.1h-2.50zM299.85 720.2h2.50v63.0h-2.50zM307.75 626.4h2.50v72.6h-2.50zM325.55 609.8h2.50v71.7h-2.50zM345.55 624.0h2.50v57.5h-2.50zM385.75 966.2h2.50v21.4h-2.50zM397.45 1072.3h2.50v5.1h-2.50zM403.75 989.9h2.50v43.4h-2.50zM411.55 994.4h2.50v21.2h-2.50zM417.55 961.8h2.50v15.5h-2.50zM423.45 853.8h2.50v81.6h-2.50zM455.75 934.0h2.50v37.3h-2.50zM463.85 928.5h2.50v33.2h-2.50zM470.05 915.8h2.50v10.0h-2.50zM475.55 862.1h2.50v37.1h-2.50zM481.55 866.1h2.50v7.1h-2.50zM501.65 956.0h2.50v17.3h-2.50zM507.85 965.9h2.50v21.2h-2.50zM515.75 898.0h2.50v39.4h-2.50zM527.65 831.9h2.50v67.8h-2.50zM533.95 810.2h2.50v19.4h-2.50zM541.75 774.4h2.50v36.8h-2.50zM567.75 750.4h2.50v65.0h-2.50zM573.85 706.0h2.50v39.4h-2.50zM579.55 651.9h2.50v37.6h-2.50zM585.55 664.4h2.50v0.4h-2.50zM599.65 630.0h2.50v39.2h-2.50zM611.55 637.5h2.50v25.3h-2.50zM631.65 578.0h2.50v26.4h-2.50zM645.95 514.0h2.50v47.5h-2.50zM651.65 497.8h2.50v23.8h-2.50zM657.65 491.8h2.50v9.5h-2.50zM671.45 510.2h2.50v6.9h-2.50zM697.45 642.1h2.50v11.5h-2.50zM703.65 588.1h2.50v41.6h-2.50zM735.45 804.1h2.50v23.6h-2.50zM755.55 792.2h2.50v61.5h-2.50zM761.45 765.6h2.50v42.1h-2.50zM767.75 709.8h2.50v39.4h-2.50zM775.55 670.0h2.50v23.8h-2.50zM787.55 822.1h2.50v3.0h-2.50zM807.35 864.4h2.50v44.7h-2.50zM853.35 1032.2h2.50v58.9h-2.50zM873.65 1070.0h2.50v59.2h-2.50zM879.95 965.9h2.50v55.8h-2.50zM885.95 971.9h2.50v25.1h-2.50zM925.75 1077.8h2.50v135.4h-2.50zM937.65 1070.0h2.50v33.4h-2.50zM963.55 1000.0h2.50v85.7h-2.50zM969.75 960.0h2.50v29.4h-2.50zM977.25 901.5h2.50v53.8h-2.50zM983.55 929.0h2.50v1.7h-2.50zM995.45 864.0h2.50v83.4h-2.50zM1029.35 984.2h2.50v0.4h-2.50zM1035.55 949.9h2.50v21.3h-2.50zM1042.05 932.1h2.50v6.9h-2.50zM1055.85 812.0h2.50v87.6h-2.50zM1061.55 780.0h2.50v23.1h-2.50zM1087.45 822.2h2.50v23.1h-2.50zM1107.75 770.2h2.50v30.8h-2.50zM1113.55 748.6h2.50v20.7h-2.50zM1119.45 748.6h2.50v0.4h-2.50zM1139.55 698.1h2.50v111.5h-2.50zM1151.45 706.5h2.50v27.0h-2.50zM1177.55 806.1h2.50v11.3h-2.50zM1191.55 782.0h2.50v43.8h-2.50zM1229.45 938.0h2.50v6.9h-2.50zM1237.75 883.9h2.50v33.5h-2.50zM1249.45 916.5h2.50v24.3h-2.50zM1269.55 912.0h2.50v36.5h-2.50zM1275.55 921.1h2.50v5.6h-2.50zM1289.35 908.0h2.50v8.3h-2.50zM1301.55 870.1h2.50v63.1h-2.50zM1315.85 848.0h2.50v24.6h-2.50zM1321.55 800.1h2.50v32.9h-2.50zM1327.55 788.1h2.50v3.0h-2.50zM1335.35 774.5h2.50v30.2h-2.50zM1361.75 798.2h2.50v55.0h-2.50zM1367.75 754.0h2.50v35.5h-2.50zM1373.55 756.6h2.50v12.9h-2.50zM1380.05 758.1h2.50v27.0h-2.50zM1387.85 716.2h2.50v20.7h-2.50zM1393.85 708.5h2.50v12.9h-2.50zM1405.55 702.2h2.50v49.0h-2.50zM1413.35 662.5h2.50v43.3h-2.50zM1419.85 606.5h2.50v16.6h-2.50zM1439.85 622.0h2.50v51.2h-2.50zM1457.55 690.5h2.50v16.5h-2.50zM1465.75 645.1h2.50v36.3h-2.50zM1471.75 649.9h2.50v2.2h-2.50zM1477.75 636.5h2.50v22.6h-2.50zM1543.35 790.1h2.50v37.1h-2.50zM1549.85 730.5h2.50v41.2h-2.50zM1569.85 780.5h2.50v0.4h-2.50zM1587.75 906.0h2.50v15.2h-2.50zM1595.75 848.2h2.50v19.0h-2.50zM1601.65 870.9h2.50v12.7h-2.50zM1607.85 809.8h2.50v71.9h-2.50zM1621.65 818.0h2.50v27.2h-2.50zM1627.65 770.1h2.50v21.0h-2.50zM1647.75 800.1h2.50v25.1h-2.50zM1665.95 746.0h2.50v25.7h-2.50zM1673.55 726.2h2.50v0.7h-2.50zM1679.65 672.0h2.50v45.4h-2.50zM1685.65 657.6h2.50v18.7h-2.50zM1705.75 676.5h2.50v18.6h-2.50zM1711.65 672.5h2.50v18.9h-2.50zM1731.75 638.1h2.50v38.9h-2.50zM1743.65 632.5h2.50v10.6h-2.50zM1757.75 629.9h2.50v11.3h-2.50zM1777.55 646.5h2.50v0.6h-2.50zM1797.55 648.0h2.50v53.5h-2.50zM1803.45 616.4h2.50v34.8h-2.50zM1835.75 645.8h2.50v45.7h-2.50zM1875.55 646.4h2.50v6.9h-2.50zM1887.75 626.2h2.50v30.9h-2.50zM1893.75 589.9h2.50v35.5h-2.50zM1933.55 584.0h2.50v41.1h-2.50zM1953.45 568.0h2.50v33.4h-2.50zM1959.45 511.9h2.50v35.5h-2.50zM1971.65 509.9h2.50v9.6h-2.50zM1985.45 502.1h2.50v19.2h-2.50zM1997.75 459.2h2.50v27.0h-2.50zM2005.55 431.9h2.50v13.4h-2.50zM2011.45 428.6h2.50v2.0h-2.50zM2017.75 379.9h2.50v53.8h-2.50zM2043.75 420.2h2.50v21.7h-2.50zM2063.45 424.1h2.50v35.2h-2.50zM2069.65 424.6h2.50v5.6h-2.50zM2075.65 406.4h2.50v18.1h-2.50zM2083.45 358.2h2.50v21.3h-2.50zM2095.75 360.4h2.50v0.9h-2.50zM2115.45 393.9h2.50v11.6h-2.50zM2121.75 367.9h2.50v19.9h-2.50zM2127.75 336.1h2.50v3.5h-2.50zM2135.55 301.9h2.50v15.7h-2.50zM2147.75 290.1h2.50v11.3h-2.50zM2153.75 259.9h2.50v29.0h-2.50zM2179.75 259.9h2.50v9.0h-2.50zM2187.55 250.2h2.50v7.0h-2.50zM2193.55 251.1h2.50v1.2h-2.50zM2205.65 236.6h2.50v11.0h-2.50zM2213.45 230.2h2.50v0.9h-2.50zM2231.65 310.1h2.50v3.0h-2.50zM2245.45 294.1h2.50v23.0h-2.50zM2271.45 343.9h2.50v9.0h-2.50zM2277.75 320.1h2.50v26.9h-2.50zM2303.75 431.9h2.50v19.6h-2.50zM2311.55 403.9h2.50v15.5h-2.50zM2323.55 370.1h2.50v33.2h-2.50zM2337.45 398.2h2.50v13.2h-2.50zM2343.45 372.2h2.50v4.8h-2.50zM2349.45 313.6h2.50v57.4h-2.50zM2355.75 298.1h2.50v9.5h-2.50zM2389.55 356.6h2.50v12.6h-2.50zM2395.55 350.1h2.50v2.7h-2.50zM2401.45 322.6h2.50v2.5h-2.50zM2415.55 342.4h2.50v0.9h-2.50zM2421.55 306.4h2.50v12.7h-2.50zM2433.75 354.6h2.50v4.8h-2.50zM2467.45 461.9h2.50v21.8h-2.50zM2485.75 496.2h2.50v25.1h-2.50zM2499.45 506.6h2.50v0.4h-2.50zM2511.75 530.0h2.50v23.1h-2.50zM2525.55 487.9h2.50v65.2h-2.50zM2531.45 462.4h2.50v41.5h-2.50zM2537.75 442.4h2.50v14.5h-2.50zM2545.55 424.1h2.50v7.4h-2.50zM2563.75 428.1h2.50v25.7h-2.50zM2571.55 428.1h2.50v22.5h-2.50zM2597.45 572.2h2.50v3.0h-2.50zM2603.45 544.4h2.50v8.8h-2.50zM2629.45 618.0h2.50v23.5h-2.50zM2635.45 593.9h2.50v17.3h-2.50zM2641.75 553.5h2.50v30.9h-2.50zM2649.55 479.4h2.50v43.8h-2.50zM2655.55 442.1h2.50v18.8h-2.50zM2667.75 423.9h2.50v6.9h-2.50zM2687.55 390.1h2.50v42.8h-2.50zM2693.75 392.6h2.50v2.5h-2.50zM2701.95 316.1h2.50v31.7h-2.50zM2713.75 304.4h2.50v7.1h-2.50z" fill="#00d678"/><path d="M7.75 317.9h2.50v31.6h-2.50zM39.65 195.9h2.50v17.8h-2.50zM45.55 220.2h2.50v61.7h-2.50zM65.75 243.8h2.50v42.0h-2.50zM71.75 316.1h2.50v9.7h-2.50zM85.55 316.1h2.50v3.7h-2.50zM91.75 346.1h2.50v43.5h-2.50zM97.65 368.4h2.50v35.4h-2.50zM111.45 358.1h2.50v49.2h-2.50zM131.75 335.9h2.50v9.7h-2.50zM137.25 322.2h2.50v85.1h-2.50zM143.55 416.4h2.50v102.3h-2.50zM157.65 516.1h2.50v90.9h-2.50zM175.75 538.0h2.50v109.5h-2.50zM202.05 524.6h2.50v110.7h-2.50zM209.85 654.5h2.50v0.4h-2.50zM215.55 698.4h2.50v79.4h-2.50zM221.45 740.0h2.50v29.4h-2.50zM227.75 782.0h2.50v47.8h-2.50zM247.25 760.0h2.50v3.3h-2.50zM261.65 724.1h2.50v117.3h-2.50zM273.85 840.0h2.50v21.4h-2.50zM313.85 634.1h2.50v13.1h-2.50zM319.95 634.1h2.50v43.6h-2.50zM333.65 646.4h2.50v23.4h-2.50zM339.75 648.0h2.50v9.5h-2.50zM351.65 635.9h2.50v27.8h-2.50zM359.75 678.0h2.50v75.1h-2.50zM365.75 795.9h2.50v65.3h-2.50zM371.45 922.2h2.50v79.0h-2.50zM377.65 989.9h2.50v23.9h-2.50zM391.45 1024.2h2.50v53.2h-2.50zM429.75 846.5h2.50v14.7h-2.50zM437.55 852.5h2.50v82.9h-2.50zM443.55 934.5h2.50v3.0h-2.50zM489.65 882.2h2.50v21.3h-2.50zM495.65 909.9h2.50v27.5h-2.50zM521.65 879.8h2.50v45.9h-2.50zM547.75 774.4h2.50v31.1h-2.50zM559.95 816.2h2.50v27.4h-2.50zM593.35 676.0h2.50v9.5h-2.50zM619.95 627.9h2.50v13.4h-2.50zM625.65 650.0h2.50v7.5h-2.50zM637.55 562.0h2.50v17.6h-2.50zM663.65 514.1h2.50v3.0h-2.50zM677.65 525.9h2.50v33.5h-2.50zM683.65 592.2h2.50v51.1h-2.50zM689.65 650.0h2.50v1.2h-2.50zM709.75 590.0h2.50v127.5h-2.50zM715.75 740.1h2.50v1.2h-2.50zM723.55 734.0h2.50v49.6h-2.50zM729.45 772.1h2.50v39.5h-2.50zM741.75 778.1h2.50v61.6h-2.50zM749.55 836.0h2.50v19.4h-2.50zM781.55 737.9h2.50v93.3h-2.50zM795.85 833.9h2.50v27.2h-2.50zM801.35 882.0h2.50v5.6h-2.50zM813.55 888.5h2.50v14.8h-2.50zM821.65 892.5h2.50v70.7h-2.50zM827.35 974.5h2.50v18.6h-2.50zM833.35 1023.9h2.50v29.6h-2.50zM839.65 1066.0h2.50v21.2h-2.50zM847.45 1062.2h2.50v33.2h-2.50zM859.35 1062.2h2.50v38.9h-2.50zM865.65 1109.8h2.50v41.3h-2.50zM891.65 982.2h2.50v23.3h-2.50zM899.75 1044.3h2.50v58.9h-2.50zM905.55 1098.0h2.50v29.3h-2.50zM911.55 1146.3h2.50v3.1h-2.50zM917.35 1150.0h2.50v10.8h-2.50zM931.65 1058.3h2.50v97.2h-2.50zM943.75 1006.0h2.50v21.6h-2.50zM951.55 1046.0h2.50v5.2h-2.50zM957.65 1060.2h2.50v17.8h-2.50zM990.05 926.2h2.50v21.2h-2.50zM1003.25 882.0h2.50v5.1h-2.50zM1009.55 864.0h2.50v39.4h-2.50zM1016.05 908.2h2.50v82.9h-2.50zM1021.65 1018.0h2.50v11.3h-2.50zM1048.05 947.8h2.50v54.3h-2.50zM1067.55 791.6h2.50v17.9h-2.50zM1073.45 765.5h2.50v12.1h-2.50zM1081.75 794.1h2.50v13.4h-2.50zM1099.45 812.4h2.50v3.0h-2.50zM1125.45 768.1h2.50v35.5h-2.50zM1133.25 806.1h2.50v3.5h-2.50zM1145.55 692.1h2.50v6.9h-2.50zM1159.35 724.1h2.50v47.3h-2.50zM1165.55 776.2h2.50v46.9h-2.50zM1185.85 814.5h2.50v16.8h-2.50zM1197.55 707.8h2.50v43.9h-2.50zM1203.55 758.5h2.50v15.3h-2.50zM1211.75 812.4h2.50v53.0h-2.50zM1217.45 874.0h2.50v31.6h-2.50zM1223.45 908.0h2.50v29.1h-2.50zM1243.55 908.6h2.50v24.3h-2.50zM1255.45 917.8h2.50v9.5h-2.50zM1263.25 930.2h2.50v38.6h-2.50zM1283.35 908.0h2.50v22.6h-2.50zM1295.55 920.4h2.50v26.4h-2.50zM1309.85 854.0h2.50v15.3h-2.50zM1341.75 774.4h2.50v2.2h-2.50zM1347.45 770.5h2.50v64.6h-2.50zM1353.45 854.1h2.50v9.0h-2.50zM1399.55 728.2h2.50v24.9h-2.50zM1431.55 662.5h2.50v5.1h-2.50zM1445.85 632.0h2.50v29.0h-2.50zM1451.55 640.2h2.50v55.1h-2.50zM1483.45 666.5h2.50v20.7h-2.50zM1497.75 724.0h2.50v49.0h-2.50zM1503.55 770.0h2.50v6.9h-2.50zM1509.45 756.2h2.50v3.3h-2.50zM1523.85 780.0h2.50v5.4h-2.50zM1529.55 794.0h2.50v3.2h-2.50zM1535.55 806.0h2.50v9.5h-2.50zM1555.55 722.5h2.50v2.5h-2.50zM1561.55 728.0h2.50v55.5h-2.50zM1575.85 774.0h2.50v71.5h-2.50zM1581.45 854.1h2.50v43.1h-2.50zM1613.35 810.5h2.50v36.8h-2.50zM1633.35 770.1h2.50v56.9h-2.50zM1639.35 810.5h2.50v6.6h-2.50zM1653.65 788.1h2.50v3.0h-2.50zM1659.95 796.2h2.50v1.4h-2.50zM1691.65 653.8h2.50v23.3h-2.50zM1699.45 686.4h2.50v1.2h-2.50zM1725.45 660.2h2.50v25.2h-2.50zM1751.45 622.0h2.50v4.8h-2.50zM1783.75 656.4h2.50v47.3h-2.50zM1789.75 692.4h2.50v25.1h-2.50zM1815.65 622.1h2.50v37.1h-2.50zM1823.45 660.1h2.50v25.1h-2.50zM1829.45 696.2h2.50v17.3h-2.50zM1849.45 658.0h2.50v1.2h-2.50zM1855.45 639.9h2.50v3.8h-2.50zM1867.75 644.5h2.50v10.9h-2.50zM1881.45 654.1h2.50v15.2h-2.50zM1901.55 584.4h2.50v8.5h-2.50zM1913.75 609.9h2.50v25.7h-2.50zM1919.75 650.2h2.50v12.9h-2.50zM1927.55 628.6h2.50v2.5h-2.50zM1939.65 564.1h2.50v15.2h-2.50zM1945.65 595.9h2.50v7.4h-2.50zM1965.75 511.9h2.50v5.6h-2.50zM1979.45 509.9h2.50v13.5h-2.50zM1991.75 491.8h2.50v1.7h-2.50zM2023.75 366.1h2.50v25.4h-2.50zM2031.55 407.9h2.50v4.1h-2.50zM2037.55 422.1h2.50v11.6h-2.50zM2049.75 446.2h2.50v3.0h-2.50zM2057.55 454.1h2.50v13.4h-2.50zM2101.65 382.4h2.50v6.9h-2.50zM2109.45 399.9h2.50v0.9h-2.50zM2141.45 298.4h2.50v4.3h-2.50zM2167.55 262.1h2.50v15.5h-2.50zM2173.75 264.1h2.50v11.4h-2.50zM2199.65 220.3h2.50v53.0h-2.50zM2225.75 264.1h2.50v30.9h-2.50zM2239.45 298.4h2.50v31.1h-2.50zM2257.75 310.1h2.50v29.0h-2.50zM2265.55 323.9h2.50v13.4h-2.50zM2285.55 330.1h2.50v35.6h-2.50zM2291.55 371.9h2.50v25.1h-2.50zM2297.55 388.2h2.50v38.9h-2.50zM2317.55 390.1h2.50v23.3h-2.50zM2329.65 351.4h2.50v71.7h-2.50zM2363.55 296.6h2.50v4.5h-2.50zM2369.45 284.2h2.50v8.8h-2.50zM2375.45 301.9h2.50v9.3h-2.50zM2381.75 320.1h2.50v21.3h-2.50zM2407.75 336.4h2.50v7.4h-2.50zM2427.55 314.2h2.50v40.7h-2.50zM2447.55 354.6h2.50v44.6h-2.50zM2453.55 428.1h2.50v37.1h-2.50zM2459.65 458.6h2.50v16.8h-2.50zM2473.45 484.6h2.50v32.9h-2.50zM2479.45 512.4h2.50v4.6h-2.50zM2493.55 470.2h2.50v32.9h-2.50zM2505.45 524.4h2.50v32.9h-2.50zM2551.55 422.6h2.50v24.6h-2.50zM2557.55 440.2h2.50v27.3h-2.50zM2577.55 442.4h2.50v36.9h-2.50zM2583.55 476.1h2.50v37.1h-2.50zM2589.65 519.6h2.50v43.9h-2.50zM2609.45 558.0h2.50v40.2h-2.50zM2615.75 610.0h2.50v33.7h-2.50zM2623.55 632.0h2.50v29.3h-2.50zM2681.55 412.4h2.50v36.6h-2.50z" fill="#ff6b60"/><circle cx="719.1" cy="678.9" r="14.7" fill="#1590ff" stroke="#1670d0" stroke-width="0.8"/><text x="719.1" y="685.5" text-anchor="middle" style="font-family:'Liberation Sans',sans-serif;font-size:20px;font-weight:bold" fill="#fff">P</text><circle cx="1559.0" cy="664.4" r="14.7" fill="#1590ff" stroke="#1670d0" stroke-width="0.8"/><text x="1559.0" y="671.0" text-anchor="middle" style="font-family:'Liberation Sans',sans-serif;font-size:20px;font-weight:bold" fill="#fff">P</text><circle cx="1553.0" cy="692.9" r="14.7" fill="#1590ff" stroke="#1670d0" stroke-width="0.8"/><text x="1553.0" y="699.5" text-anchor="middle" style="font-family:'Liberation Sans',sans-serif;font-size:20px;font-weight:bold" fill="#fff">P</text><circle cx="1565.2" cy="691.0" r="14.7" fill="#1590ff" stroke="#1670d0" stroke-width="0.8"/><text x="1565.2" y="697.6" text-anchor="middle" style="font-family:'Liberation Sans',sans-serif;font-size:20px;font-weight:bold" fill="#fff">P</text><circle cx="1546.8" cy="747.0" r="14.7" fill="#1590ff" stroke="#1670d0" stroke-width="0.8"/><text x="1546.8" y="753.6" text-anchor="middle" style="font-family:'Liberation Sans',sans-serif;font-size:20px;font-weight:bold" fill="#fff">P</text><path d="M1439.8 873.8L1420.9 819.8M1416.8 842.3L1420.9 819.8L1438.7 834.8" stroke="#000" stroke-width="1.8" fill="none" stroke-linecap="round" stroke-linejoin="round"/><path d="M2566.2 356.1L2578.4 401M2560.9 384.6L2578.4 401L2585.2 379.2" stroke="#000" stroke-width="1.8" fill="none" stroke-linecap="round" stroke-linejoin="round"/><path d="M2524.9 612.7L2513.5 593.6M2536.9 593L2513.5 593.6L2539.5 608.4" stroke="#000" stroke-width="1.8" fill="none" stroke-linecap="round" stroke-linejoin="round"/><rect x="2503.2" y="303.2" width="117.5" height="37.4" fill="#ff1a1a" stroke="#808080" stroke-width="2"/><text x="2509.3" y="332.3" style="font-family:'Liberation Sans',sans-serif;font-size:29.6px" fill="#000">50 SMA</text><rect x="2465.2" y="619.3" width="137.4" height="37.2" fill="#1919ff" stroke="#808080" stroke-width="2"/><text x="2471.1" y="648.1" style="font-family:'Liberation Sans',sans-serif;font-size:29.6px" fill="#fff">200 SMA</text></g><path d="M2717.9 58.3V1307M8 1306H2718.8" stroke="#4d4d4d" stroke-width="2" fill="none"/><path d="M2718 1233.3H2725" stroke="#4d4d4d" stroke-width="1.6"/><text transform="translate(2731.5 1242.6) scale(1 1.05)" style="font-family:'Liberation Sans',sans-serif;font-size:22px" fill="#4d4d4d">3500.00</text><path d="M2718 1141.0H2725" stroke="#4d4d4d" stroke-width="1.6"/><text transform="translate(2731.5 1150.3) scale(1 1.05)" style="font-family:'Liberation Sans',sans-serif;font-size:22px" fill="#4d4d4d">3600.00</text><path d="M2718 1048.6H2725" stroke="#4d4d4d" stroke-width="1.6"/><text transform="translate(2731.5 1057.9) scale(1 1.05)" style="font-family:'Liberation Sans',sans-serif;font-size:22px" fill="#4d4d4d">3700.00</text><path d="M2718 956.3H2725" stroke="#4d4d4d" stroke-width="1.6"/><text transform="translate(2731.5 965.6) scale(1 1.05)" style="font-family:'Liberation Sans',sans-serif;font-size:22px" fill="#4d4d4d">3800.00</text><path d="M2718 864.0H2725" stroke="#4d4d4d" stroke-width="1.6"/><text transform="translate(2731.5 873.3) scale(1 1.05)" style="font-family:'Liberation Sans',sans-serif;font-size:22px" fill="#4d4d4d">3900.00</text><path d="M2718 771.7H2725" stroke="#4d4d4d" stroke-width="1.6"/><text transform="translate(2731.5 781.0) scale(1 1.05)" style="font-family:'Liberation Sans',sans-serif;font-size:22px" fill="#4d4d4d">4000.00</text><path d="M2718 679.4H2725" stroke="#4d4d4d" stroke-width="1.6"/><text transform="translate(2731.5 688.7) scale(1 1.05)" style="font-family:'Liberation Sans',sans-serif;font-size:22px" fill="#4d4d4d">4100.00</text><path d="M2718 587.1H2725" stroke="#4d4d4d" stroke-width="1.6"/><text transform="translate(2731.5 596.4) scale(1 1.05)" style="font-family:'Liberation Sans',sans-serif;font-size:22px" fill="#4d4d4d">4200.00</text><path d="M2718 494.8H2725" stroke="#4d4d4d" stroke-width="1.6"/><text transform="translate(2731.5 504.1) scale(1 1.05)" style="font-family:'Liberation Sans',sans-serif;font-size:22px" fill="#4d4d4d">4300.00</text><path d="M2718 402.5H2725" stroke="#4d4d4d" stroke-width="1.6"/><text transform="translate(2731.5 411.8) scale(1 1.05)" style="font-family:'Liberation Sans',sans-serif;font-size:22px" fill="#4d4d4d">4400.00</text><path d="M2718 310.2H2725" stroke="#4d4d4d" stroke-width="1.6"/><text transform="translate(2731.5 319.5) scale(1 1.05)" style="font-family:'Liberation Sans',sans-serif;font-size:22px" fill="#4d4d4d">4500.00</text><path d="M2718 217.9H2725" stroke="#4d4d4d" stroke-width="1.6"/><text transform="translate(2731.5 227.2) scale(1 1.05)" style="font-family:'Liberation Sans',sans-serif;font-size:22px" fill="#4d4d4d">4600.00</text><path d="M2718 125.6H2725" stroke="#4d4d4d" stroke-width="1.6"/><text transform="translate(2731.5 134.9) scale(1 1.05)" style="font-family:'Liberation Sans',sans-serif;font-size:22px" fill="#4d4d4d">4700.00</text><path d="M186.9 1306V1312.6" stroke="#4d4d4d" stroke-width="1.6"/><text transform="translate(185.9 1334.9) scale(1 1.05)" text-anchor="middle" style="font-family:'Liberation Sans',sans-serif;font-size:22px" fill="#4d4d4d">May</text><path d="M459 1306V1312.6" stroke="#4d4d4d" stroke-width="1.6"/><text transform="translate(458.0 1334.9) scale(1 1.05)" text-anchor="middle" style="font-family:'Liberation Sans',sans-serif;font-size:22px" fill="#4d4d4d">Jul</text><path d="M738.9 1306V1312.6" stroke="#4d4d4d" stroke-width="1.6"/><text transform="translate(737.9 1334.9) scale(1 1.05)" text-anchor="middle" style="font-family:'Liberation Sans',sans-serif;font-size:22px" fill="#4d4d4d">Sep</text><path d="M1012.8 1306V1312.6" stroke="#4d4d4d" stroke-width="1.6"/><text transform="translate(1011.8 1334.9) scale(1 1.05)" text-anchor="middle" style="font-family:'Liberation Sans',sans-serif;font-size:22px" fill="#4d4d4d">Nov</text><path d="M1287 1306V1312.6" stroke="#4d4d4d" stroke-width="1.6"/><text transform="translate(1286.0 1334.9) scale(1 1.05)" text-anchor="middle" style="font-family:'Liberation Sans',sans-serif;font-weight:bold;font-size:22px" fill="#4d4d4d">2023</text><path d="M1538.9 1306V1312.6" stroke="#4d4d4d" stroke-width="1.6"/><text transform="translate(1537.9 1334.9) scale(1 1.05)" text-anchor="middle" style="font-family:'Liberation Sans',sans-serif;font-size:22px" fill="#4d4d4d">Mar</text><path d="M1813 1306V1312.6" stroke="#4d4d4d" stroke-width="1.6"/><text transform="translate(1812.0 1334.9) scale(1 1.05)" text-anchor="middle" style="font-family:'Liberation Sans',sans-serif;font-size:22px" fill="#4d4d4d">May</text><path d="M2092.9 1306V1312.6" stroke="#4d4d4d" stroke-width="1.6"/><text transform="translate(2091.9 1334.9) scale(1 1.05)" text-anchor="middle" style="font-family:'Liberation Sans',sans-serif;font-size:22px" fill="#4d4d4d">Jul</text><path d="M2373.4 1306V1312.6" stroke="#4d4d4d" stroke-width="1.6"/><text transform="translate(2372.4 1334.9) scale(1 1.05)" text-anchor="middle" style="font-family:'Liberation Sans',sans-serif;font-size:22px" fill="#4d4d4d">Sep</text><path d="M2645 1306V1312.6" stroke="#4d4d4d" stroke-width="1.6"/><text transform="translate(2644.0 1334.9) scale(1 1.05)" text-anchor="middle" style="font-family:'Liberation Sans',sans-serif;font-size:22px" fill="#4d4d4d">Nov</text><rect x="2717" y="288.1" width="102" height="31.799999999999955" fill="#4872e5"/><path d="M2717.5 304.0H2723" stroke="rgba(255,255,255,0.6)" stroke-width="1.6"/><text transform="translate(2730.8 312.4) scale(1 1.05)" style="font-family:'Liberation Sans',sans-serif;font-size:22px" fill="#fff">4508.24</text><rect x="2717" y="444.2" width="102" height="31.600000000000023" fill="#ff0000"/><path d="M2717.5 460.0H2723" stroke="rgba(255,255,255,0.6)" stroke-width="1.6"/><text transform="translate(2730.8 468.4) scale(1 1.05)" style="font-family:'Liberation Sans',sans-serif;font-size:22px" fill="#fff">4338.03</text><rect x="2717" y="512.0" width="102" height="31.799999999999955" fill="#0000ff"/><path d="M2717.5 527.9H2723" stroke="rgba(255,255,255,0.6)" stroke-width="1.6"/><text transform="translate(2730.8 536.3) scale(1 1.05)" style="font-family:'Liberation Sans',sans-serif;font-size:22px" fill="#fff">4264.80</text><text x="32.5" y="1272.2" textLength="182" lengthAdjust="spacingAndGlyphs" style="font-family:'Liberation Sans',sans-serif;font-size:43.3px;font-weight:bold" fill="#000" stroke="#000" stroke-width="1.1">Investıng</text><text x="215.5" y="1272.2" textLength="57.5" lengthAdjust="spacingAndGlyphs" style="font-family:'Liberation Sans',sans-serif;font-size:31.5px" fill="#555">.com</text><ellipse cx="158.2" cy="1241.7" rx="3.6" ry="4.8" transform="rotate(35 158.2 1241.7)" fill="#f5a300"/></svg></body></html>
